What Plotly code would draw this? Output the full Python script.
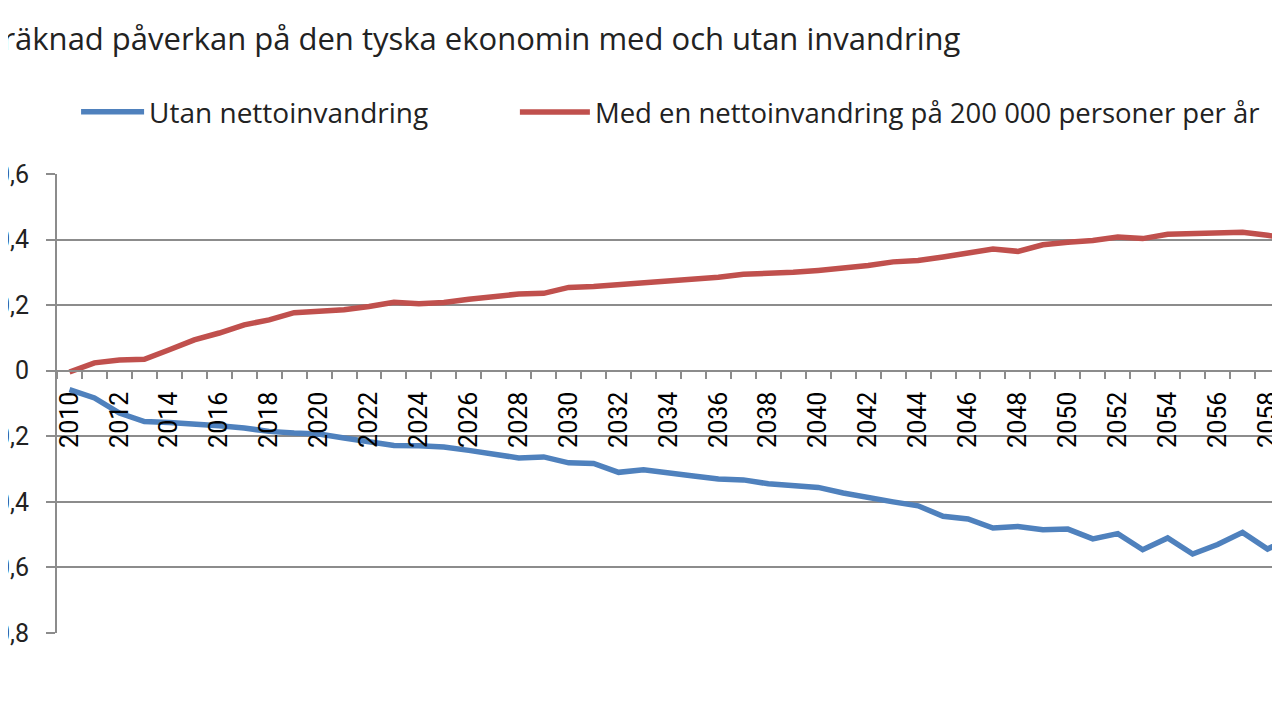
import plotly.graph_objects as go

# Values (effect on the German economy, per year)
years = list(range(2010, 2060))

utan = [-0.058, -0.083, -0.129, -0.155, -0.158, -0.162, -0.168, -0.175, -0.185, -0.190,
        -0.193, -0.205, -0.218, -0.228, -0.229, -0.233, -0.243, -0.253, -0.266, -0.263,
        -0.281, -0.283, -0.310, -0.302, -0.313, -0.321, -0.330, -0.333, -0.345, -0.351,
        -0.356, -0.373, -0.388, -0.400, -0.412, -0.444, -0.452, -0.480, -0.475, -0.485,
        -0.483, -0.513, -0.497, -0.546, -0.510, -0.559, -0.530, -0.493, -0.544, -0.506]

med = [-0.004, 0.024, 0.033, 0.035, 0.064, 0.094, 0.115, 0.140, 0.155, 0.177,
       0.181, 0.186, 0.196, 0.209, 0.204, 0.208, 0.218, 0.225, 0.234, 0.236,
       0.254, 0.257, 0.262, 0.267, 0.273, 0.279, 0.285, 0.294, 0.296, 0.300,
       0.306, 0.312, 0.321, 0.332, 0.336, 0.347, 0.359, 0.371, 0.364, 0.384,
       0.392, 0.397, 0.408, 0.403, 0.416, 0.418, 0.422, 0.422, 0.413, 0.403]

y_ticks = [-0.8, -0.6, -0.4, -0.2, 0, 0.2, 0.4, 0.6]
y_labels = ["-0,8", "-0,6", "-0,4", "-0,2", "0", "0,2", "0,4", "0,6"]
x_labels = list(range(2010, 2060, 2))

title = "Beräknad påverkan på den tyska ekonomin med och utan invandring"
font_family = "Open Sans"
tick_family = "Roboto"
grey = "#8c8c8c"
text_col = "#222222"

fig = go.Figure()
fig.add_trace(go.Scatter(x=years, y=utan, mode="lines", name="Utan nettoinvandring",
                         line=dict(color="#4f81bd", width=5.5), legend="legend"))
fig.add_trace(go.Scatter(x=years, y=med, mode="lines",
                         name="Med en nettoinvandring på 200 000 personer per år",
                         line=dict(color="#c0504d", width=5.5), legend="legend2"))

# page body has an 8px margin, so the margins are shifted by that much
fig.update_layout(
    width=1280, height=720,
    margin=dict(l=49, r=8, t=166, b=95),
    plot_bgcolor="white", paper_bgcolor="white",
    font=dict(family=font_family, color=text_col),
    showlegend=True,
    legend=dict(orientation="h", x=0.0156, y=1.135, xanchor="left", yanchor="middle",
                itemwidth=63, font=dict(size=28, color=text_col),
                bgcolor="rgba(0,0,0,0)"),
    legend2=dict(orientation="h", x=0.3744, y=1.135, xanchor="left", yanchor="middle",
                 itemwidth=70, font=dict(size=27.5, color=text_col),
                 bgcolor="rgba(0,0,0,0)"),
)

# x axis sits on the zero line, labels every second year, ticks between years
fig.update_xaxes(
    range=[2009.5, 2058.5],
    anchor="free", position=0.8 / 1.4,
    tickmode="array", tickvals=x_labels, ticktext=[str(v) for v in x_labels],
    tickangle=-90, ticks="", ticklabelstandoff=10,
    tickfont=dict(family=tick_family, size=25, color="black"),
    showline=True, linecolor=grey, linewidth=2,
    showgrid=False, zeroline=False, automargin=False,
    minor=dict(tick0=2009.5, dtick=1, ticks="outside", ticklen=7,
               tickcolor=grey, tickwidth=2, showgrid=False),
)

fig.update_yaxes(
    range=[-0.8, 0.6],
    tickmode="array", tickvals=y_ticks, ticktext=y_labels,
    ticks="outside", ticklen=9, tickcolor=grey, tickwidth=2,
    ticklabelstandoff=12,
    tickfont=dict(family=tick_family, size=25, color=text_col),
    showline=True, linecolor=grey, linewidth=2,
    showgrid=True, gridcolor=grey, gridwidth=2,
    zeroline=False, automargin=False,
)

fig.add_annotation(text=title, xref="paper", yref="paper",
                   x=(-37 - 57) / 1223, y=(633 - 38) / 459,
                   xanchor="left", yanchor="middle", showarrow=False,
                   font=dict(size=31, color=text_col))

fig.write_html("out.html")
